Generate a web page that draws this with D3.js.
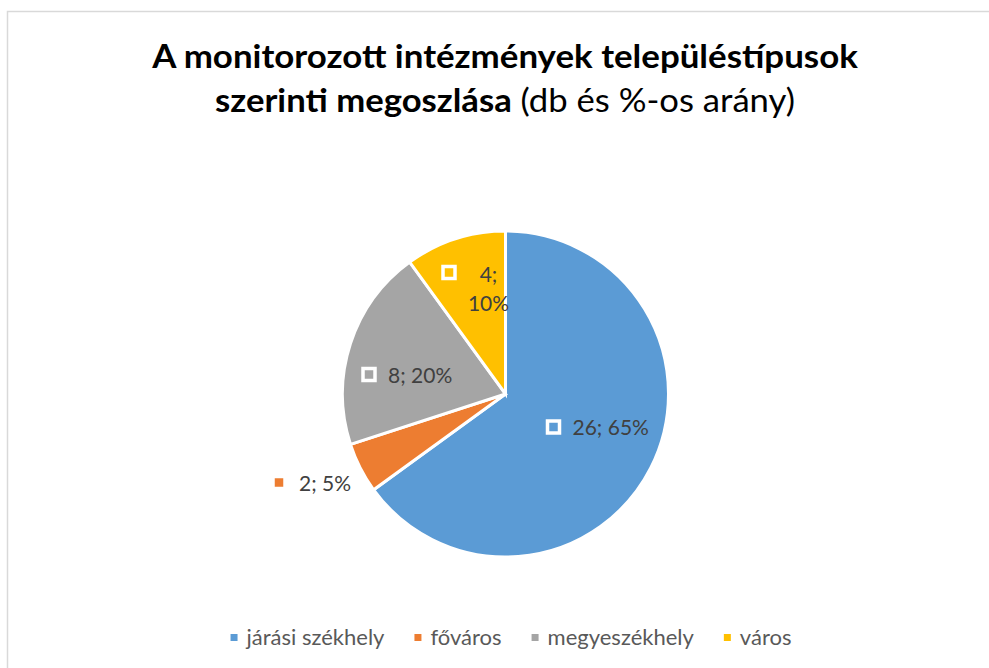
<!DOCTYPE html>
<html><head><meta charset="utf-8">
<script src="https://cdn.jsdelivr.net/npm/d3@7"></script>
<style>html,body{margin:0;padding:0;background:#fff;}svg{display:block;}</style>
</head><body>
<svg id="c" width="989" height="668"></svg>
<script>
const categories = ["járási székhely", "főváros", "megyeszékhely", "város"];
const values = [26, 2, 8, 4];
const percents = ["65%", "5%", "20%", "10%"];
const colors = ["#5B9BD5", "#ED7D31", "#A5A5A5", "#FFC000"];
const titleLine1 = "A monitorozott intézmények településtípusok";
const titleLine2Bold = "szerinti megoszlása";
const titleLine2Normal = " (db és %-os arány)";

const svg = d3.select("#c");
const FONT = "Lato, 'Open Sans', sans-serif";

// border
svg.append("rect").attr("x", 7.5).attr("y", 11.5).attr("width", 1000).attr("height", 700)
  .attr("fill", "none").attr("stroke", "#D9D9D9").attr("stroke-width", 1.5);

function fit(t, target, ax) {
  const w = t.node().getComputedTextLength();
  const s = target / w;
  t.attr("transform", `translate(${ax},0) scale(${s},1) translate(${-ax},0)`);
}

// title
const cxT = 505;
const t1 = svg.append("text").attr("x", cxT).attr("y", 68).attr("text-anchor", "middle")
  .attr("font-family", FONT).attr("font-weight", 700).attr("font-size", 33).attr("fill", "#000")
  .text(titleLine1);
fit(t1, 706, cxT);
const t2 = svg.append("text").attr("x", cxT).attr("y", 112).attr("text-anchor", "middle")
  .attr("font-family", FONT).attr("font-size", 33).attr("fill", "#000");
t2.append("tspan").attr("font-weight", 700).text(titleLine2Bold);
t2.append("tspan").attr("font-weight", 400).text(titleLine2Normal);
fit(t2, 580, cxT);

// pie
const cx = 505.5, cy = 394, R = 163;
const pie = d3.pie().sort(null).value(d => d)(values);
const arc = d3.arc().innerRadius(0).outerRadius(R);
const g = svg.append("g").attr("transform", `translate(${cx},${cy})`);
g.selectAll("path").data(pie).join("path")
  .attr("d", arc).attr("fill", (d, i) => colors[i])
  .attr("stroke", "#fff").attr("stroke-width", 3).attr("stroke-linejoin", "miter");

// data labels (key + text), placement relative to pie centre
const labelLayout = [
  {kx: 48, ky: 33, lines: [{x: 67, y: 41}]},
  {kx: -226.5, ky: 88.5, lines: [{x: -206.5, y: 97}]},
  {kx: -136.5, ky: -19.5, lines: [{x: -117.5, y: -11}]},
  {kx: -56.5, ky: -121.5, lines: [{x: -17, y: -112, anchor: "middle", part: 0}, {x: -17, y: -83, anchor: "middle", part: 1}]}
];
const lab = g.selectAll("g.lab").data(pie).join("g").attr("class", "lab");
lab.append("rect")
  .attr("x", (d, i) => labelLayout[i].kx - 6).attr("y", (d, i) => labelLayout[i].ky - 6)
  .attr("width", 12).attr("height", 12)
  .attr("fill", (d, i) => colors[i]).attr("stroke", "#fff").attr("stroke-width", 3.5);
lab.each(function(d, i) {
  const L = labelLayout[i];
  const full = `${values[i]}; ${percents[i]}`;
  const parts = [`${values[i]};`, percents[i]];
  L.lines.forEach(ln => {
    d3.select(this).append("text")
      .attr("x", ln.x).attr("y", ln.y)
      .attr("text-anchor", ln.anchor || "start")
      .attr("font-family", FONT).attr("font-size", 21).attr("fill", "#404040")
      .text(ln.part === undefined ? full : parts[ln.part]);
  });
});

// legend
const leg = svg.append("g");
const items = leg.selectAll("g").data(categories).join("g");
items.append("rect").attr("width", 7).attr("height", 7).attr("y", 634)
  .attr("fill", (d, i) => colors[i]);
items.append("text").attr("x", 16).attr("y", 645)
  .attr("font-family", FONT).attr("font-size", 22).attr("fill", "#595959").text(d => d);
let widths = [];
items.each(function() { widths.push(16 + d3.select(this).select("text").node().getComputedTextLength()); });
const gap = 30;
const total = d3.sum(widths) + gap * (widths.length - 1);
let x0 = 511 - total / 2;
items.each(function(d, i) {
  d3.select(this).attr("transform", `translate(${x0},0)`);
  x0 += widths[i] + gap;
});
</script>
</body></html>
